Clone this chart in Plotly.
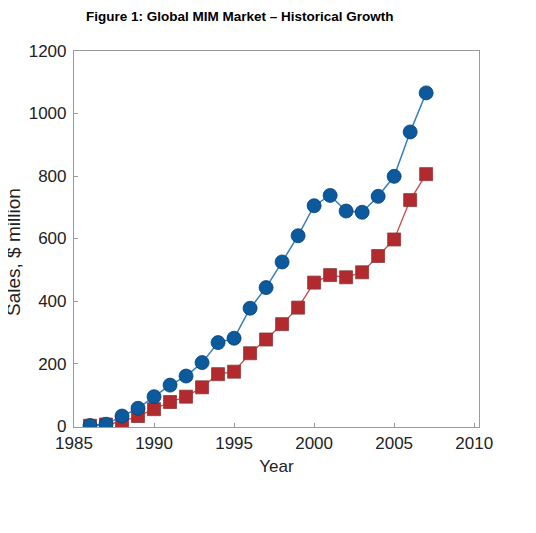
import plotly.graph_objects as go

years = list(range(1986, 2008))
series_total = [2, 6, 32, 57, 94, 131, 160, 203, 267, 281, 377, 443, 525, 609,
                705, 738, 688, 684, 735, 799, 941, 1066]
series_second = [1, 5, 14, 32, 54, 77, 94, 124, 166, 174, 233, 277, 326, 379,
                 459, 483, 476, 492, 544, 597, 723, 806]
x_ticks = [1985, 1990, 1995, 2000, 2005, 2010]
y_ticks = [0, 200, 400, 600, 800, 1000, 1200]

fig = go.Figure()
fig.add_trace(go.Scatter(
    x=years, y=series_second, mode="lines+markers",
    line=dict(color="#C8474A", width=1.3),
    marker=dict(symbol="square", size=13, color="#B22A2E",
                line=dict(color="#8a3a3a", width=0.8)),
    showlegend=False))
fig.add_trace(go.Scatter(
    x=years, y=series_total, mode="lines+markers",
    line=dict(color="#3580BD", width=1.5),
    marker=dict(symbol="circle", size=14, color="#0B5A9E",
                line=dict(color="#0a3f70", width=0.8)),
    showlegend=False))

font_family = "Liberation Sans, Arial, sans-serif"
axis_common = dict(showgrid=False, zeroline=False, showline=True, mirror=True,
                   automargin=False,
                   linecolor="#9a9a9a", linewidth=1.2, ticks="inside", ticklen=4,
                   tickcolor="#9a9a9a",
                   tickfont=dict(family=font_family, size=17, color="#222"))

offx, offy = 8, 8
ml, mr, mt, mb = 74 - offx, 57 + offx, 51 - offy, 106 + offy
plot_w = 536 - ml - mr
plot_h = 533 - mt - mb


def px_to_paper_x(px):
    return (px - offx - ml) / plot_w


def px_to_paper_y(py):
    return 1 - (py - offy - mt) / plot_h


fig.update_layout(
    width=536, height=533,
    margin=dict(l=ml, r=mr, t=mt, b=mb),
    paper_bgcolor="white", plot_bgcolor="white",
    xaxis=dict(range=[1985, 2010.3], tickvals=x_ticks, ticktext=[str(v) for v in x_ticks],
               title=dict(text="Year", standoff=8,
                          font=dict(family=font_family, size=17, color="#222")),
               **axis_common),
    yaxis=dict(range=[-3, 1200], tickvals=y_ticks, ticktext=[str(v) for v in y_ticks],
               ticklabelstandoff=3,
               **axis_common),
    annotations=[
        dict(text="<b>Figure 1: Global MIM Market – Historical Growth</b>",
             x=px_to_paper_x(240), xref="paper",
             y=px_to_paper_y(17), yref="paper", yanchor="middle",
             showarrow=False,
             font=dict(family="Liberation Sans Narrow, Arial Narrow, sans-serif",
                       size=13.5, color="black")),
        dict(text="Sales, $ million", textangle=-90,
             x=px_to_paper_x(14), xref="paper", xanchor="center",
             y=px_to_paper_y(252), yref="paper", yanchor="middle",
             showarrow=False, borderpad=0,
             font=dict(family=font_family, size=19, color="#222")),
    ],
)

fig.write_html("out.html")
